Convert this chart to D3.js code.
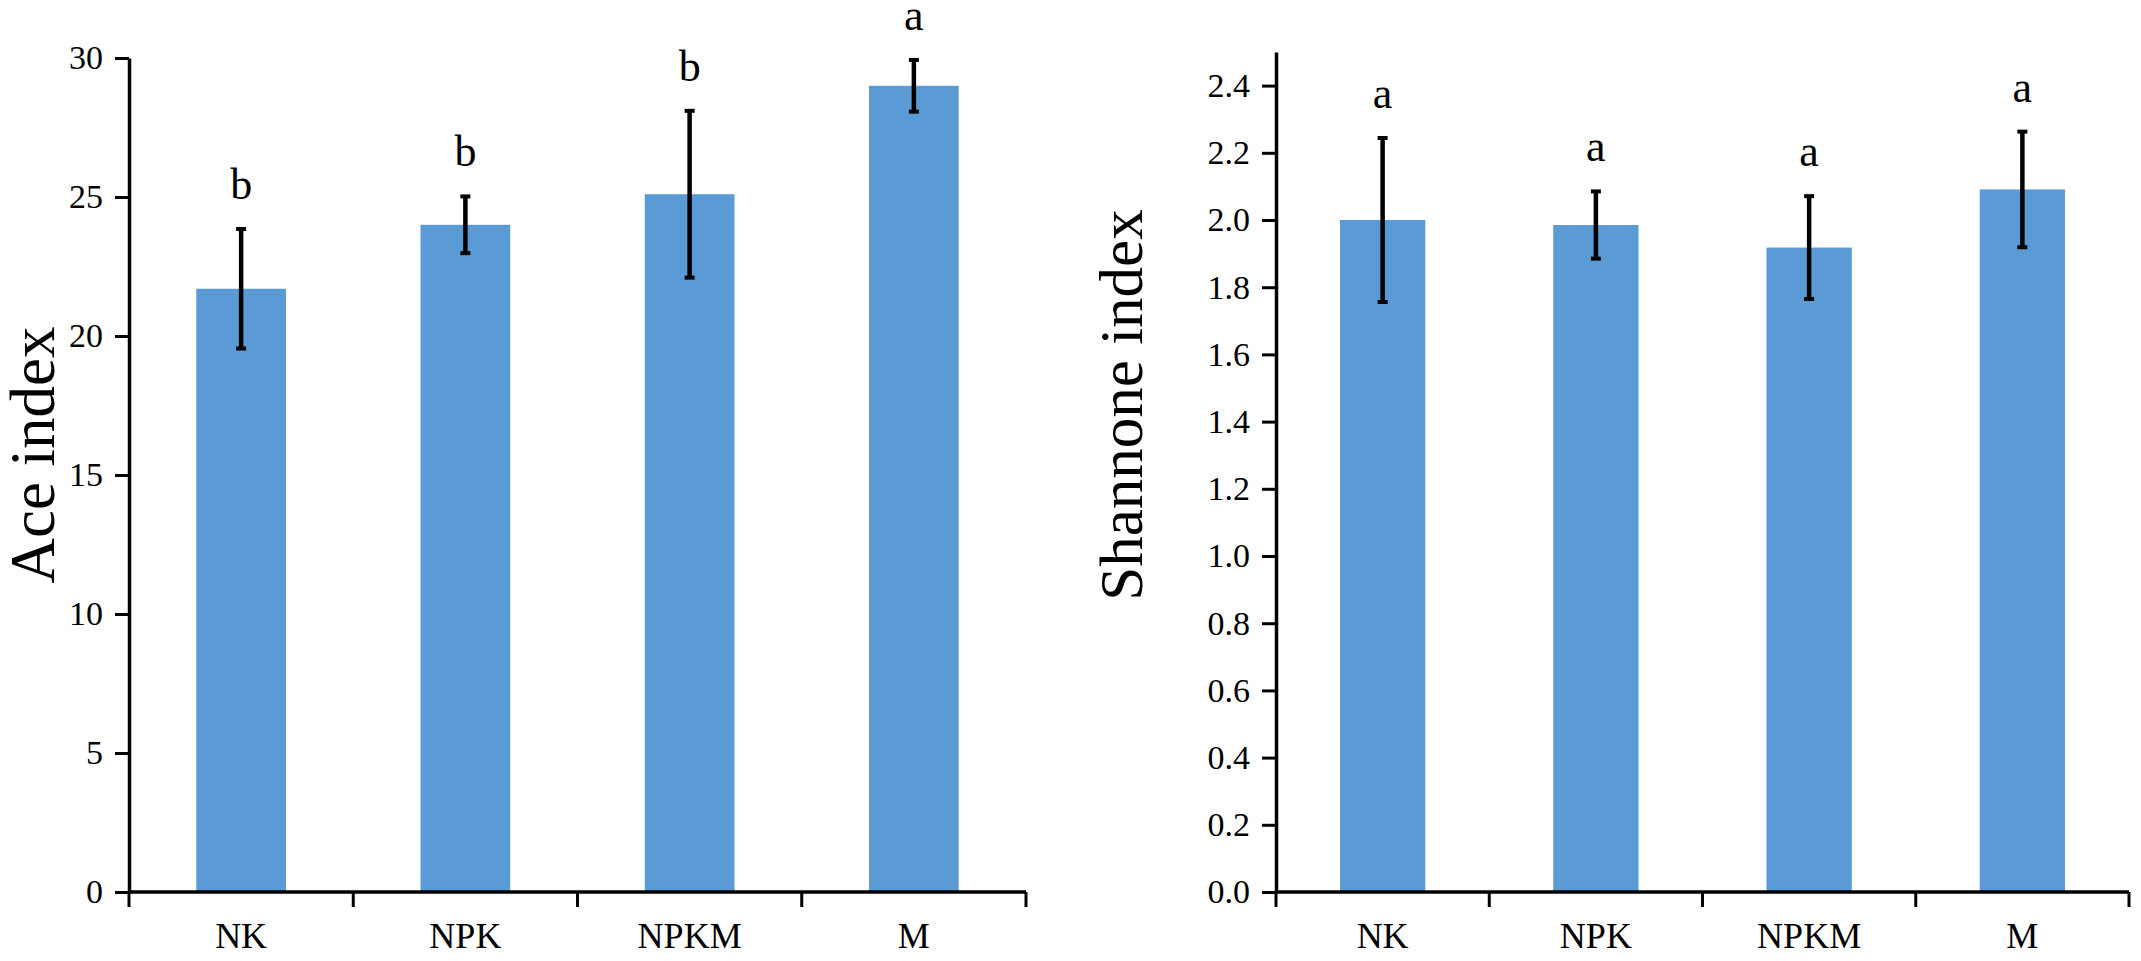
<!DOCTYPE html>
<html>
<head>
<meta charset="utf-8">
<script src="https://cdn.jsdelivr.net/npm/d3@7"></script>
<style>
  body { margin: 0; background: #fff; }
  svg { display: block; }
  text { font-family: 'Liberation Serif', 'Times New Roman', serif; fill: #000; }
</style>
</head>
<body>
<div id="chart"></div>
<script>
// data
var categories = ["NK", "NPK", "NPKM", "M"];

var aceValues = [21.7, 24.0, 25.1, 29.0];
var aceErrors = [2.15, 1.02, 3.0, 0.93];
var aceLetters = ["b", "b", "b", "a"];
var aceTicks = [0, 5, 10, 15, 20, 25, 30];

var shannonValues = [2.00, 1.985, 1.918, 2.091];
var shannonErrors = [0.244, 0.10, 0.153, 0.172];
var shannonLetters = ["a", "a", "a", "a"];
var shannonTicks = [0, 0.2, 0.4, 0.6, 0.8, 1.0, 1.2, 1.4, 1.6, 1.8, 2.0, 2.2, 2.4];

var barColor = "#5b9bd5";
var serif = "'Liberation Serif', 'Times New Roman', serif";

var svg = d3.select("#chart")
  .append("svg")
  .attr("width", 2141)
  .attr("height", 961);

function drawPanel(opt) {
  var g = svg.append("g");

  var x = d3.scaleBand()
    .domain(categories)
    .range([opt.left, opt.right])
    .paddingInner(0.6)
    .paddingOuter(0.3);

  var y = d3.scaleLinear()
    .domain(opt.domain)
    .range([opt.bottom, opt.top]);

  var rows = categories.map(function (c, i) {
    return { cat: c, v: opt.values[i], e: opt.errors[i], s: opt.letters[i] };
  });

  // bars
  g.selectAll(".bar")
    .data(rows)
    .enter()
    .append("rect")
    .attr("x", function (d) { return x(d.cat); })
    .attr("width", x.bandwidth())
    .attr("y", function (d) { return y(d.v); })
    .attr("height", function (d) { return y(0) - y(d.v); })
    .style("fill", barColor);

  // error bars
  var cx = function (d) { return x(d.cat) + x.bandwidth() / 2; };
  g.selectAll(".err")
    .data(rows)
    .enter()
    .append("line")
    .attr("x1", cx).attr("x2", cx)
    .attr("y1", function (d) { return y(d.v + d.e); })
    .attr("y2", function (d) { return y(d.v - d.e); })
    .style("stroke", "#000")
    .style("stroke-width", 4.5);

  ["top", "bot"].forEach(function (k) {
    g.selectAll(".cap-" + k)
      .data(rows)
      .enter()
      .append("line")
      .attr("x1", function (d) { return cx(d) - 5; })
      .attr("x2", function (d) { return cx(d) + 5; })
      .attr("y1", function (d) { return y(k === "top" ? d.v + d.e : d.v - d.e); })
      .attr("y2", function (d) { return y(k === "top" ? d.v + d.e : d.v - d.e); })
      .style("stroke", "#000")
      .style("stroke-width", 4);
  });

  // significance letters
  g.selectAll(".sig")
    .data(rows)
    .enter()
    .append("text")
    .attr("x", cx)
    .attr("y", function (d) { return y(d.v + d.e) - 30; })
    .attr("text-anchor", "middle")
    .style("font-family", serif)
    .style("font-size", "44px")
    .text(function (d) { return d.s; });

  // y axis
  var yAxis = g.append("g")
    .attr("transform", "translate(" + opt.left + ",0)")
    .call(d3.axisLeft(y)
      .tickValues(opt.ticks)
      .tickFormat(opt.format)
      .tickSize(14)
      .tickSizeOuter(0)
      .tickPadding(12));
  yAxis.attr("font-family", null);
  yAxis.select(".domain").style("stroke-width", 3.5);
  yAxis.selectAll(".tick line").style("stroke-width", 3);
  yAxis.selectAll("text")
    .style("font-family", serif)
    .style("font-size", "34px");

  // x axis line, boundary ticks and labels
  g.append("line")
    .attr("x1", opt.left).attr("x2", opt.right)
    .attr("y1", y(0)).attr("y2", y(0))
    .style("stroke", "#000")
    .style("stroke-width", 3.5);

  var bounds = d3.range(categories.length + 1).map(function (i) {
    return opt.left + i * x.step();
  });
  g.selectAll(".xtick")
    .data(bounds)
    .enter()
    .append("line")
    .attr("x1", function (d) { return d; })
    .attr("x2", function (d) { return d; })
    .attr("y1", y(0))
    .attr("y2", y(0) + 15)
    .style("stroke", "#000")
    .style("stroke-width", 3);

  g.selectAll(".xlab")
    .data(rows)
    .enter()
    .append("text")
    .attr("x", cx)
    .attr("y", y(0) + 56)
    .attr("text-anchor", "middle")
    .style("font-family", serif)
    .style("font-size", "36px")
    .text(function (d) { return d.cat; });

  // axis title
  g.append("text")
    .attr("transform", "translate(" + opt.titleX + "," + opt.titleY + ") rotate(-90)")
    .attr("text-anchor", "middle")
    .style("font-family", serif)
    .style("font-size", opt.titleSize + "px")
    .text(opt.title);
}

drawPanel({
  left: 129, right: 1026, top: 58, bottom: 892,
  domain: [0, 30], ticks: aceTicks, format: d3.format("d"),
  values: aceValues, errors: aceErrors, letters: aceLetters,
  title: "Ace index", titleX: 54, titleY: 455, titleSize: 63
});

drawPanel({
  left: 1276, right: 2129, top: 52, bottom: 892,
  domain: [0, 2.5], ticks: shannonTicks, format: d3.format(".1f"),
  values: shannonValues, errors: shannonErrors, letters: shannonLetters,
  title: "Shannone index", titleX: 1142, titleY: 405, titleSize: 61
});
</script>
</body>
</html>
